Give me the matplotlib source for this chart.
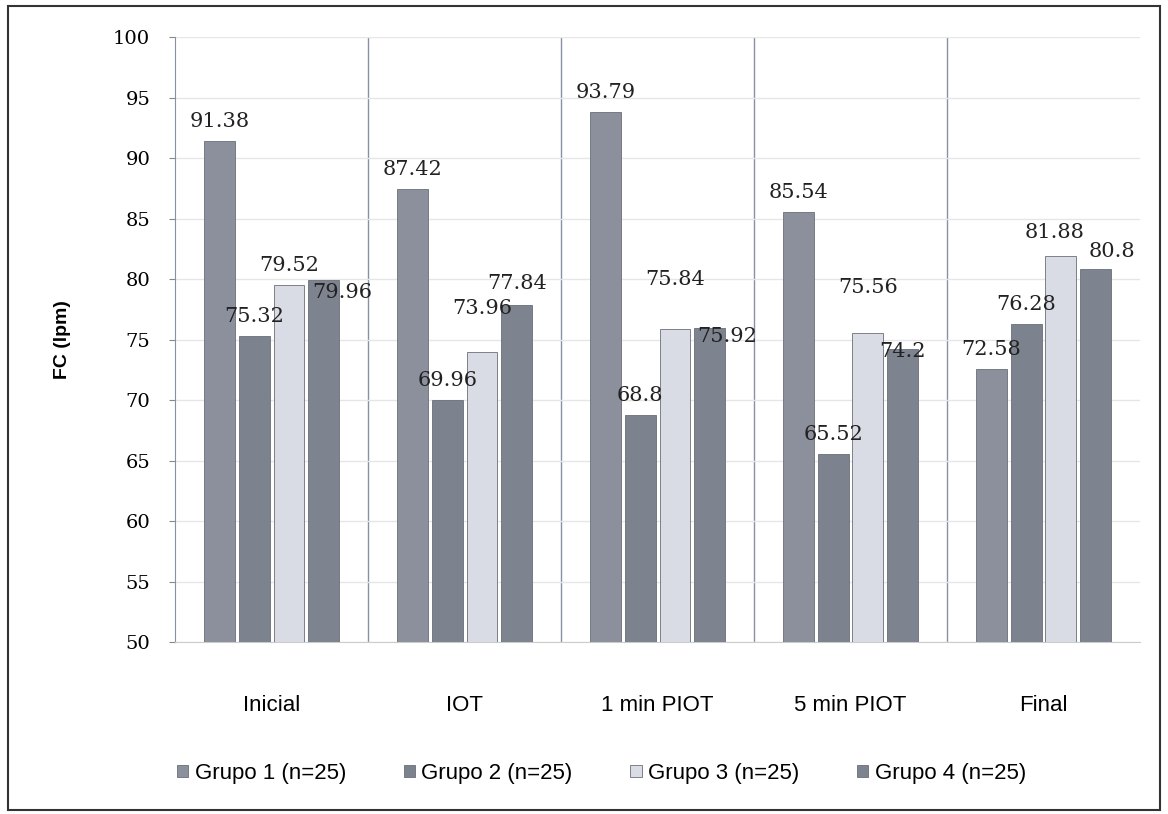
import matplotlib.pyplot as plt
import numpy as np

categories = ["Inicial", "IOT", "1 min PIOT", "5 min PIOT", "Final"]
grupo1 = [91.38, 87.42, 93.79, 85.54, 72.58]
grupo2 = [75.32, 69.96, 68.8, 65.52, 76.28]
grupo3 = [79.52, 73.96, 75.84, 75.56, 81.88]
grupo4 = [79.96, 77.84, 75.92, 74.2, 80.8]
labels = ["Grupo 1 (n=25)", "Grupo 2 (n=25)", "Grupo 3 (n=25)", "Grupo 4 (n=25)"]
colors = ["#8c909c", "#7c828e", "#d9dce4", "#7e848f"]

# desplazamiento (px) de las etiquetas respecto al tope de cada barra
label_dx = [[0] * 5, [0] * 5, [0, 0, 0, 0, -6], [18, 0, 18, 0, 16]]
label_dy = [[10] * 5, [10] * 5,
            [10, 34, 40, 36, 14],
            [-22, 12, -18, -12, 8]]

fig = plt.figure(figsize=(11.68, 8.14), dpi=100)
ax = fig.add_axes([0.150, 0.2113, 0.826, 0.7432])

x = np.arange(len(categories))
width = 0.16
gap = 0.02
series = [grupo1, grupo2, grupo3, grupo4]
for i, (vals, lab, col) in enumerate(zip(series, labels, colors)):
    pos = x + (i - 1.5) * (width + gap)
    ax.bar(pos, np.array(vals) - 50, width, bottom=50, color=col,
           edgecolor="#6a6f78", linewidth=0.6, label=lab, zorder=3)
    for j, (p, v) in enumerate(zip(pos, vals)):
        ax.annotate(f"{v:g}", (p, v),
                    xytext=(label_dx[i][j] * 0.72, label_dy[i][j] * 0.72),
                    textcoords="offset points", ha="center", va="bottom",
                    family="DejaVu Serif", fontsize=15, color="#222222", zorder=4)

ax.set_xlim(-0.5, len(categories) - 0.5)
ax.set_ylim(50, 100)
ax.set_yticks(range(50, 101, 5))
ax.tick_params(axis="y", labelsize=14, length=4, color="#888888", pad=14)
for t in ax.get_yticklabels():
    t.set_family("DejaVu Serif")
ax.set_xticks(x)
ax.set_xticklabels(categories, fontsize=16, family="Liberation Sans")
ax.tick_params(axis="x", length=0, pad=38)
for b in x[:-1] + 0.5:
    ax.axvline(b, color="#8890a8", linewidth=1.0, zorder=1)
ax.yaxis.grid(True, color="#e6e6e6", linewidth=1.0, zorder=0)
for s in ["top", "right"]:
    ax.spines[s].set_visible(False)
ax.spines["left"].set_color("#8890a8")
ax.spines["bottom"].set_color("#cccccc")

ax.set_ylabel("FC (lpm)", fontsize=14, fontweight="bold", family="Liberation Sans", labelpad=30)

fig.legend(loc="center", bbox_to_anchor=(0.515, 0.05), ncol=4, frameon=False,
           prop={"family": "Liberation Sans", "size": 16}, handlelength=0.5,
           handleheight=0.5, handletextpad=0.3, columnspacing=2.6)

fig.patches.append(plt.Rectangle((0.007, 0.005), 0.986, 0.988, transform=fig.transFigure,
                                 fill=False, edgecolor="#333333", linewidth=1.5))

fig.savefig("out.png", dpi=100)
